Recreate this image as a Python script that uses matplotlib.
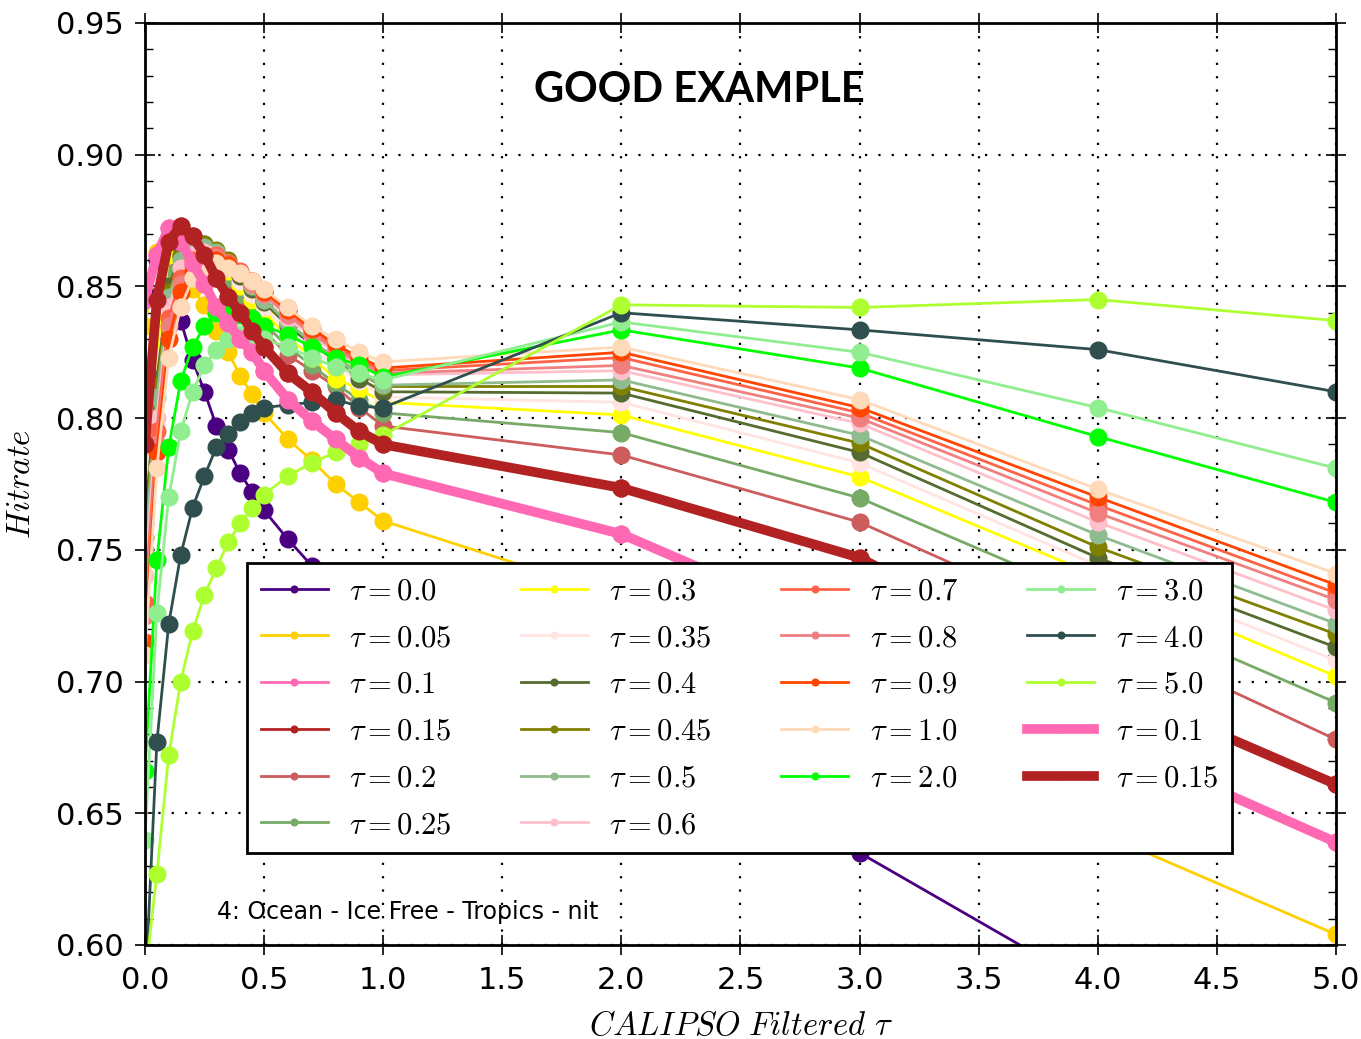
import matplotlib

matplotlib.use("Agg")
import matplotlib.pyplot as plt
from matplotlib.ticker import MultipleLocator

plt.rcParams["mathtext.fontset"] = "cm"

# thresholds on the x axis (CALIPSO filtered tau)
x_vals = [0.0, 0.05, 0.1, 0.15, 0.2, 0.25, 0.3, 0.35, 0.4, 0.45, 0.5,
          0.6, 0.7, 0.8, 0.9, 1.0, 2.0, 3.0, 4.0, 5.0]

tau_labels = ["0.0", "0.05", "0.1", "0.15", "0.2", "0.25", "0.3", "0.35",
              "0.4", "0.45", "0.5", "0.6", "0.7", "0.8", "0.9", "1.0",
              "2.0", "3.0", "4.0", "5.0"]

tau_colors = ["#4B0082", "#FFD000", "#FF69B4", "#B22222", "#CD5C5C",
              "#77AA66", "#FFFF00", "#FFE4E1", "#556B2F", "#808000",
              "#8FBC8F", "#FFC0CB", "#FF6347", "#F08080", "#FF4500",
              "#FFDAB9", "#00FF00", "#90EE90", "#2F4F4F", "#ADFF2F"]

hit_00 = [0.848, 0.860, 0.850, 0.837, 0.822, 0.810, 0.797, 0.788, 0.779, 0.772,
          0.765, 0.754, 0.744, 0.734, 0.724, 0.715, 0.680, 0.635, 0.583, 0.532]
hit_005 = [0.835, 0.863, 0.862, 0.856, 0.849, 0.843, 0.833, 0.825, 0.816, 0.809,
           0.802, 0.792, 0.784, 0.775, 0.768, 0.761, 0.732, 0.688, 0.643, 0.604]
hit_01 = [0.845, 0.862, 0.872, 0.867, 0.859, 0.851, 0.842, 0.836, 0.830, 0.825,
          0.818, 0.807, 0.799, 0.792, 0.785, 0.779, 0.756, 0.717, 0.679, 0.639]
hit_015 = [0.790, 0.845, 0.867, 0.873, 0.869, 0.862, 0.853, 0.846, 0.840, 0.833,
           0.827, 0.817, 0.810, 0.802, 0.795, 0.790, 0.7735, 0.747, 0.700, 0.661]
hit_02 = [0.780, 0.830, 0.857, 0.865, 0.866, 0.862, 0.856, 0.850, 0.844, 0.838,
          0.833, 0.824, 0.818, 0.812, 0.804, 0.797, 0.786, 0.7605, 0.720, 0.678]
hit_025 = [0.775, 0.825, 0.855, 0.862, 0.864, 0.863, 0.859, 0.853, 0.847, 0.841,
           0.836, 0.827, 0.820, 0.813, 0.807, 0.802, 0.7945, 0.7697, 0.731, 0.692]
hit_03 = [0.770, 0.822, 0.862, 0.866, 0.866, 0.864, 0.861, 0.856, 0.850, 0.845,
          0.840, 0.831, 0.823, 0.815, 0.811, 0.806, 0.8012, 0.7777, 0.740, 0.702]
hit_035 = [0.765, 0.818, 0.850, 0.861, 0.864, 0.864, 0.862, 0.858, 0.852, 0.847,
           0.842, 0.833, 0.826, 0.820, 0.814, 0.808, 0.806, 0.783, 0.744, 0.708]
hit_04 = [0.760, 0.815, 0.850, 0.862, 0.867, 0.866, 0.863, 0.859, 0.854, 0.849,
          0.844, 0.835, 0.828, 0.822, 0.815, 0.810, 0.8095, 0.787, 0.747, 0.713]
hit_045 = [0.755, 0.812, 0.848, 0.861, 0.867, 0.866, 0.864, 0.860, 0.855, 0.850,
           0.845, 0.836, 0.829, 0.823, 0.817, 0.812, 0.812, 0.7905, 0.751, 0.718]
hit_05 = [0.750, 0.808, 0.846, 0.860, 0.865, 0.865, 0.863, 0.859, 0.855, 0.850,
          0.845, 0.836, 0.829, 0.823, 0.817, 0.8125, 0.8145, 0.7935, 0.7556, 0.722]
hit_06 = [0.740, 0.800, 0.842, 0.857, 0.862, 0.863, 0.862, 0.859, 0.855, 0.851,
          0.847, 0.838, 0.831, 0.825, 0.820, 0.8164, 0.818, 0.798, 0.7605, 0.727]
hit_07 = [0.730, 0.795, 0.838, 0.853, 0.860, 0.862, 0.862, 0.859, 0.856, 0.852,
          0.848, 0.840, 0.833, 0.827, 0.822, 0.818, 0.823, 0.802, 0.767, 0.7336]
hit_08 = [0.725, 0.790, 0.835, 0.851, 0.858, 0.861, 0.861, 0.858, 0.855, 0.851,
          0.847, 0.839, 0.832, 0.826, 0.821, 0.817, 0.820, 0.800, 0.764, 0.731]
hit_09 = [0.715, 0.787, 0.830, 0.848, 0.856, 0.859, 0.860, 0.858, 0.855, 0.852,
          0.848, 0.841, 0.834, 0.828, 0.823, 0.819, 0.825, 0.804, 0.770, 0.7367]
hit_10 = [0.710, 0.781, 0.823, 0.842, 0.853, 0.857, 0.859, 0.857, 0.855, 0.852,
          0.849, 0.842, 0.835, 0.830, 0.825, 0.8213, 0.827, 0.807, 0.773, 0.741]
hit_20 = [0.666, 0.746, 0.789, 0.814, 0.827, 0.835, 0.840, 0.840, 0.839, 0.838,
          0.835, 0.8316, 0.827, 0.823, 0.820, 0.8156, 0.8335, 0.819, 0.793, 0.768]
hit_30 = [0.640, 0.726, 0.770, 0.795, 0.810, 0.820, 0.826, 0.830, 0.832, 0.831,
          0.830, 0.827, 0.823, 0.8195, 0.817, 0.8145, 0.8365, 0.825, 0.804, 0.781]
hit_40 = [0.580, 0.677, 0.722, 0.748, 0.766, 0.778, 0.789, 0.794, 0.7985, 0.802,
          0.804, 0.805, 0.806, 0.807, 0.8045, 0.804, 0.840, 0.8335, 0.826, 0.810]
hit_50 = [0.587, 0.627, 0.672, 0.700, 0.719, 0.733, 0.743, 0.753, 0.760, 0.766,
          0.771, 0.778, 0.783, 0.787, 0.790, 0.7935, 0.843, 0.842, 0.845, 0.837]

hit_series = [hit_00, hit_005, hit_01, hit_015, hit_02, hit_025, hit_03, hit_035,
              hit_04, hit_045, hit_05, hit_06, hit_07, hit_08, hit_09, hit_10,
              hit_20, hit_30, hit_40, hit_50]

# the two highlighted curves are drawn again with thick lines
bold_series = [(hit_01, "0.1", "#FF69B4"), (hit_015, "0.15", "#B22222")]

fig = plt.figure(figsize=(13.61, 10.39), dpi=100)
ax = fig.add_axes([0.1065, 0.0905, 0.8751, 0.8874])

for y, lab, col in zip(hit_series, tau_labels, tau_colors):
    ax.plot(x_vals, y, "-o", color=col, mec=col, lw=2, ms=12,
            label=r"$\tau=%s$" % lab)
for y, lab, col in bold_series:
    ax.plot(x_vals, y, "-o", color=col, mec=col, lw=7, ms=12,
            label=r"$\tau=%s$" % lab)

ax.set_xlim(0, 5)
ax.set_ylim(0.60, 0.95)
ax.xaxis.set_major_locator(MultipleLocator(0.5))
ax.yaxis.set_major_locator(MultipleLocator(0.05))
ax.yaxis.set_minor_locator(MultipleLocator(0.01))
ax.xaxis.set_major_formatter(plt.FuncFormatter(lambda v, p: "%.1f" % v))
ax.yaxis.set_major_formatter(plt.FuncFormatter(lambda v, p: "%.2f" % v))
ax.tick_params(which="major", direction="inout", length=14, width=1.2,
               labelsize=22, top=True, right=True, pad=8)
ax.tick_params(which="minor", direction="in", length=6, width=1,
               left=True, right=True)
ax.grid(True, color="k", linestyle=(0, (1, 5)), linewidth=1.6)
for sp in ax.spines.values():
    sp.set_linewidth(2)

ax.set_xlabel(r"$CALIPSO\ Filtered\ \tau$", fontsize=23.5, labelpad=10)
ax.set_ylabel(r"$Hitrate$", fontsize=23.5, labelpad=14)

leg = ax.legend(ncol=4, loc="upper left", mode="expand",
                bbox_to_anchor=(0.0856, 0.0976, 0.827, 0.317),
                fontsize=22, markerscale=0.4, fancybox=False, framealpha=1,
                edgecolor="k", handlelength=2.2, handletextpad=0.7,
                labelspacing=0.58, borderpad=0.45, borderaxespad=0)
leg.get_frame().set_linewidth(2)

ax.text(0.0605, 0.036, "4: Ocean - Ice Free - Tropics - nit",
        transform=ax.transAxes, fontsize=17, va="center", ha="left")
fig.text(0.514, 0.9135, "GOOD EXAMPLE", fontsize=30, fontweight="bold",
         family="Lato", ha="center", va="center")

fig.savefig("out.png", dpi=100)
